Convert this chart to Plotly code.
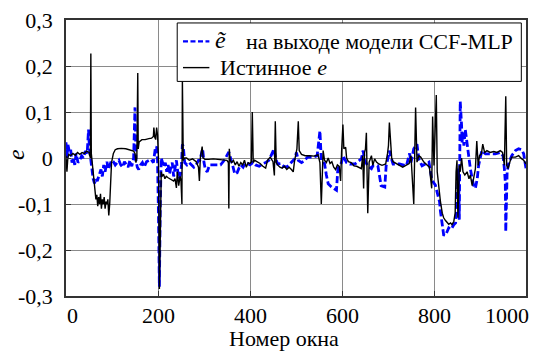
import plotly.graph_objects as go

# True error e per window index
true_x = [0, 2, 4, 6, 10, 15, 20, 25, 30, 35, 40, 45, 50, 53, 54, 55, 57, 59, 61, 63, 65, 67, 69, 71, 73, 75, 77, 79,
          81, 83, 85, 87, 89, 91, 93, 95, 97, 99, 103, 107, 112, 120, 130, 140, 147, 150, 152, 154, 156, 157, 159,
          165, 172, 180, 186, 190, 191, 193, 195, 197, 199, 201, 203, 205, 207, 209, 212, 215, 218, 222, 226, 230,
          234, 237, 240, 242, 245, 248, 250, 252, 253, 255, 258, 262, 268, 275, 283, 288, 290, 292, 296, 298, 302,
          310, 320, 330, 340, 350, 353, 354, 355, 357, 360, 364, 368, 372, 376, 380, 384, 388, 392, 396, 400, 403,
          405, 407, 410, 416, 422, 428, 434, 438, 444, 450, 453, 455, 457, 460, 465, 470, 475, 480, 485, 490, 494,
          497, 502, 505, 507, 512, 520, 530, 540, 548, 552, 555, 557, 559, 562, 566, 570, 574, 578, 582, 586, 590,
          594, 597, 599, 602, 604, 608, 610, 614, 620, 626, 632, 638, 642, 645, 647, 649, 651, 653, 656, 659, 664,
          667, 671, 675, 680, 687, 695, 699, 701, 703, 706, 708, 711, 718, 725, 732, 740, 746, 750, 756, 760, 763,
          767, 771, 778, 785, 790, 795, 797, 800, 805, 807, 811, 814, 818, 821, 825, 829, 832, 836, 839, 843, 846,
          848, 850, 852, 855, 857, 860, 863, 867, 872, 876, 879, 883, 886, 890, 893, 896, 899, 903, 906, 910, 915,
          922, 930, 937, 944, 949, 953, 956, 958, 961, 966, 969, 977, 984, 991, 995, 1000]
true_y = [0.005, -0.03, 0.0, 0.008, 0.005, 0.01, 0.006, 0.012, 0.008, 0.012, 0.01, 0.015, 0.012, 0.0, 0.227, 0.01,
          -0.01, -0.03, -0.045, -0.075, -0.09, -0.08, -0.105, -0.085, -0.1, -0.078, -0.11, -0.09, -0.1, -0.085,
          -0.11, -0.095, -0.1, -0.09, -0.125, -0.1, -0.03, -0.01, 0.01, 0.018, 0.02, 0.021, 0.02, 0.018, 0.015,
          0.01, -0.01, 0.0, 0.185, 0.02, 0.035, 0.04, 0.04, 0.042, 0.043, 0.047, 0.066, 0.045, 0.04, 0.066, 0.05,
          0.0, -0.285, -0.17, -0.03, -0.04, -0.035, -0.045, -0.04, -0.043, -0.045, -0.047, -0.05, -0.045, -0.065,
          -0.03, -0.06, -0.04, -0.05, -0.1, 0.17, -0.005, 0.0, 0.0, -0.005, -0.002, -0.008, -0.02, -0.05, 0.0,
          0.025, 0.0, -0.003, -0.003, -0.002, -0.003, -0.004, -0.005, -0.01, -0.11, 0.02, -0.005, -0.01, -0.005,
          -0.015, -0.008, -0.018, -0.01, -0.015, -0.005, -0.02, -0.01, -0.012, -0.008, 0.1, -0.01, -0.005,
          -0.008, -0.012, -0.018, -0.022, -0.005, 0.002, -0.008, -0.038, 0.08, -0.01, -0.015, -0.02, -0.022,
          -0.018, -0.025, -0.02, -0.025, -0.03, -0.005, 0.02, 0.08, 0.016, 0.008, 0.005, 0.005, 0.004, 0.007,
          -0.01, -0.1, -0.01, 0.016, -0.005, -0.01, 0.0, -0.012, -0.008, -0.02, -0.025, -0.015, -0.018, -0.05,
          0.012, 0.073, 0.02, 0.023, 0.0, -0.008, -0.01, -0.017, -0.018, -0.02, -0.023, 0.005, -0.066, 0.012,
          0.02, 0.055, -0.12, -0.009, 0.005, -0.016, -0.002, -0.009, -0.013, -0.016, -0.013, 0.01, 0.027, 0.077,
          0.027, 0.0, -0.008, -0.013, -0.016, -0.02, -0.016, -0.012, 0.005, -0.1, 0.11, -0.009, 0.005, 0.002,
          -0.009, -0.016, -0.02, -0.066, 0.09, -0.016, 0.137, -0.03, -0.073, -0.095, -0.12, -0.13, -0.136, -0.141,
          -0.144, -0.141, -0.145, -0.138, -0.12, -0.03, -0.005, -0.13, -0.016, -0.03, 0.0, -0.03, -0.037, -0.03,
          -0.045, -0.037, -0.06, -0.045, -0.023, 0.037, -0.016, 0.005, 0.009, 0.03, 0.012, 0.016, 0.012, 0.014,
          0.012, 0.016, 0.012, -0.016, 0.134, -0.016, -0.023, -0.005, 0.002, 0.002, 0.005, -0.002, -0.005, -0.013]

# Estimated error from the CCF-MLP model
pred_x = [0, 2, 4, 7, 10, 13, 16, 19, 22, 26, 30, 34, 38, 42, 46, 49, 51, 54, 56, 59, 62, 65, 68, 72, 76, 79, 82, 85,
          89, 92, 96, 99, 103, 107, 111, 115, 119, 123, 127, 131, 135, 139, 143, 147, 150, 152, 155, 158, 162, 166,
          170, 175, 180, 185, 190, 194, 197, 199, 201, 203, 205, 207, 210, 213, 216, 219, 222, 225, 228, 231, 234,
          237, 240, 243, 246, 249, 251, 253, 255, 258, 263, 268, 273, 278, 283, 288, 291, 297, 300, 303, 307, 312,
          336, 340, 344, 354, 357, 362, 367, 372, 376, 380, 385, 390, 395, 400, 406, 412, 420, 428, 434, 441, 448,
          452, 456, 460, 467, 473, 480, 487, 494, 497, 501, 505, 512, 519, 525, 537, 546, 552, 555, 562, 566, 570,
          577, 588, 591, 599, 602, 610, 617, 628, 642, 646, 649, 656, 664, 667, 678, 685, 693, 696, 700, 703, 707,
          711, 725, 740, 747, 750, 756, 763, 767, 771, 774, 781, 789, 795, 798, 803, 809, 812, 814, 818, 821, 825,
          829, 832, 836, 839, 843, 847, 850, 852, 853, 855, 857, 860, 861, 863, 865, 868, 872, 875, 879, 883, 886,
          890, 894, 897, 901, 904, 912, 919, 933, 944, 950, 953, 955, 956, 958, 959, 962, 969, 977, 984, 991, 995,
          1000]
pred_y = [0.034, 0.0, 0.03, 0.015, 0.02, -0.01, 0.0, -0.015, 0.01, -0.01, -0.005, 0.005, 0.0, 0.015, 0.01, 0.062,
          0.02, -0.01, -0.03, -0.045, -0.055, -0.045, -0.05, -0.035, -0.025, -0.04, -0.015, -0.03, -0.008, -0.025,
          -0.01, -0.005, -0.008, -0.015, -0.01, -0.005, -0.015, -0.02, -0.008, -0.015, -0.02, -0.005, -0.018, 0.0,
          0.11, -0.005, -0.02, -0.025, -0.015, -0.01, -0.02, -0.008, -0.005, -0.003, -0.01, 0.02, 0.025, -0.005,
          -0.12, -0.28, -0.1, 0.0, -0.01, -0.02, -0.01, -0.03, -0.015, -0.035, -0.02, -0.01, -0.04, -0.02, -0.005,
          -0.03, -0.045, -0.035, -0.015, 0.03, 0.025, -0.01, -0.015, -0.01, -0.015, -0.02, -0.015, -0.005, -0.005,
          0.02, -0.01, -0.025, -0.03, -0.015, -0.015, -0.01, -0.005, 0.013, 0.0, -0.015, -0.035, -0.032, -0.022,
          -0.015, -0.02, -0.01, -0.012, -0.015, -0.01, -0.015, -0.018, -0.012, -0.01, -0.005, 0.01, 0.02, -0.002,
          -0.013, -0.012, -0.018, -0.02, -0.013, -0.005, -0.002, 0.012, -0.005, -0.01, -0.005, 0.002, 0.002, 0.005,
          0.059, -0.005, -0.012, -0.037, -0.056, -0.063, -0.07, -0.023, -0.01, 0.005, -0.01, -0.013, -0.013,
          -0.002, 0.016, -0.005, -0.017, -0.023, -0.017, -0.017, -0.06, -0.063, -0.017, 0.0, 0.016, 0.0, -0.013,
          -0.013, -0.017, 0.01, -0.01, 0.02, 0.03, -0.002, -0.013, -0.017, -0.013, -0.009, -0.045, -0.052, -0.059,
          -0.08, -0.095, -0.116, -0.141, -0.167, -0.168, -0.16, -0.152, -0.155, -0.152, -0.145, -0.141, -0.102,
          -0.045, -0.023, -0.134, 0.123, 0.07, 0.034, 0.055, 0.027, 0.062, 0.027, 0.005, -0.023, -0.045, -0.059,
          -0.066, -0.045, -0.016, 0.005, 0.016, 0.009, 0.009, 0.009, 0.012, 0.005, -0.023, -0.052, -0.16, -0.102,
          -0.03, -0.013, 0.005, 0.016, 0.02, 0.018, 0.009, -0.023]

x_ticks = [0, 200, 400, 600, 800, 1000]
y_ticks = [-0.3, -0.2, -0.1, 0.0, 0.1, 0.2, 0.3]
y_tick_text = ["-0,3", "-0,2", "-0,1", "0", "0,1", "0,2", "0,3"]

series_names = ["на выходе модели CCF-MLP", "Истинное <i>e</i>"]
pred_symbol = "<i>ẽ</i>"

FONT = "Liberation Serif"
BLUE = "#0000ff"
PRED_LINE = dict(color=BLUE, width=2.8, dash="7px,3px")
TRUE_LINE = dict(color="#000000", width=1.4)

# plot-area geometry in pixels (used to place the framed legend box)
W, H = 536, 351
ML, MR, MT, MB = 66, 8, 16, 55
PW, PH = W - ML - MR, H - MT - MB


def px(x):
    return (x - ML) / PW


def py(y):
    return 1 - (y - MT) / PH


fig = go.Figure()
fig.add_trace(go.Scatter(x=pred_x, y=pred_y, mode="lines", name=series_names[0], line=PRED_LINE))
fig.add_trace(go.Scatter(x=true_x, y=true_y, mode="lines", name=series_names[1], line=TRUE_LINE))

# x tick labels placed as text so the edge labels stay inside the canvas
for v in x_ticks:
    anchor, shift = "center", 0
    if v == x_ticks[0]:
        anchor, shift = "left", -1
    elif v == x_ticks[-1]:
        anchor, shift = "right", 5
    fig.add_annotation(x=v, y=0, xref="x", yref="paper", text=str(v), showarrow=False,
                       xanchor=anchor, yanchor="top", xshift=shift, yshift=-5,
                       font=dict(family=FONT, size=22, color="#000"))

fig.add_annotation(x=0.5, y=0, xref="paper", yref="paper", text="Номер окна", showarrow=False,
                   xanchor="center", yanchor="top", xshift=-12, yshift=-28,
                   font=dict(family=FONT, size=22, color="#000"))
fig.add_annotation(x=0, y=0.5, xref="paper", yref="paper", text="<i>e</i>", showarrow=False,
                   textangle=-90, xanchor="center", yanchor="middle", xshift=-50, yshift=3,
                   font=dict(family=FONT, size=24, color="#000"))

# framed legend in the upper right corner
fig.add_shape(type="rect", xref="paper", yref="paper",
              x0=px(177.7), x1=px(523.3), y0=py(78.3), y1=py(19.0),
              line=dict(color="#000", width=1), fillcolor="white", layer="above")
fig.add_shape(type="line", xref="paper", yref="paper",
              x0=px(183.5), x1=px(210), y0=py(37.7), y1=py(37.7),
              line=dict(color=BLUE, width=2.4, dash="5px,2.5px"), layer="above")
fig.add_shape(type="line", xref="paper", yref="paper",
              x0=px(183.5), x1=px(210), y0=py(64.3), y1=py(64.3),
              line=dict(color="#000", width=1.4), layer="above")
fig.add_annotation(x=px(214), y=py(36.5), xref="paper", yref="paper", text=pred_symbol,
                   showarrow=False, xanchor="left", yanchor="middle",
                   font=dict(family=FONT, size=24, color="#000"))
fig.add_annotation(x=px(244.5), y=py(37.5), xref="paper", yref="paper", text=series_names[0],
                   showarrow=False, xanchor="left", yanchor="middle",
                   font=dict(family=FONT, size=22, color="#000"))
fig.add_annotation(x=px(218.5), y=py(64.0), xref="paper", yref="paper", text=series_names[1],
                   showarrow=False, xanchor="left", yanchor="middle",
                   font=dict(family=FONT, size=22, color="#000"))

fig.update_layout(
    width=W, height=H,
    margin=dict(l=ML, r=MR, t=MT, b=MB),
    paper_bgcolor="white", plot_bgcolor="white",
    font=dict(family=FONT, size=22, color="#000"),
    showlegend=False,
    xaxis=dict(range=[0, 1000], tickvals=x_ticks, showticklabels=False,
               showgrid=True, gridcolor="#8a8a8a", gridwidth=1,
               showline=True, linecolor="#333", linewidth=1.5, mirror=True,
               ticks="inside", ticklen=5, tickcolor="#333", zeroline=False),
    yaxis=dict(range=[-0.3, 0.3], tickvals=y_ticks, ticktext=y_tick_text,
               showgrid=True, gridcolor="#8a8a8a", gridwidth=1,
               showline=True, linecolor="#333", linewidth=1.5, mirror=True,
               ticks="inside", ticklen=5, tickcolor="#333", zeroline=False,
               ticklabelstandoff=7, tickfont=dict(family=FONT, size=22, color="#000")),
)

fig.write_html("out.html")
